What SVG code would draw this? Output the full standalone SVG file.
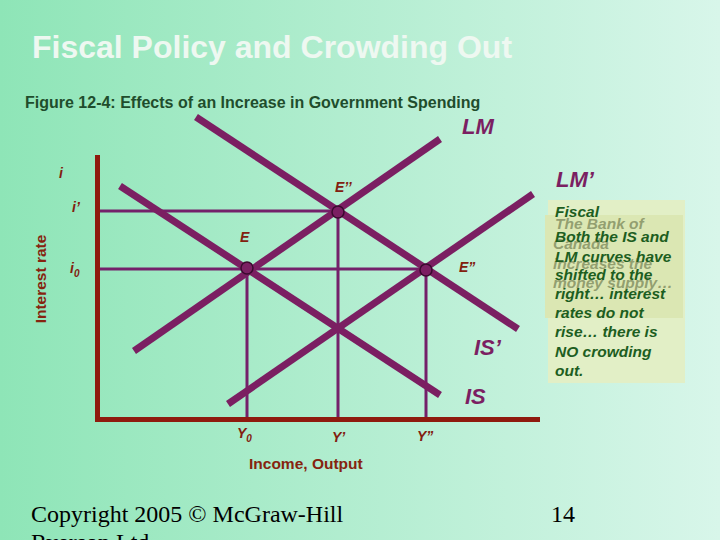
<svg xmlns="http://www.w3.org/2000/svg" width="720" height="540" viewBox="0 0 720 540">
<defs>
<linearGradient id="bg" x1="0" y1="0" x2="1" y2="0">
<stop offset="0" stop-color="#8ee5b7"/>
<stop offset="1" stop-color="#d8f6ea"/>
</linearGradient>
<style>
.curve{stroke:#7b1f62;stroke-width:7;fill:none}
.guide{stroke:#74206a;stroke-width:3;fill:none}
.axis{stroke:#8f1a0e;stroke-width:5;fill:none}
.pt{fill:#7b1f62;stroke:#3a0a2e;stroke-width:1.5}
.clab{font-family:"Liberation Sans",Arial,sans-serif;font-weight:bold;font-style:italic;font-size:22px;fill:#7b1f62}
.blab{font-family:"Liberation Sans",Arial,sans-serif;font-weight:bold;font-style:italic;font-size:14px;fill:#82200f}
.ax{font-family:"Liberation Sans",Arial,sans-serif;font-weight:bold;font-size:15.5px;fill:#86240f}
.box{font-family:"Liberation Sans",Arial,sans-serif;font-weight:bold;font-style:italic;font-size:15.5px}
.foot{font-family:"Liberation Serif","Times New Roman",serif;font-size:24px;fill:#000}
</style>
</defs>
<rect width="720" height="540" fill="url(#bg)"/>
<text x="32" y="58" font-family="Liberation Sans, Arial, sans-serif" font-weight="bold" font-size="32" fill="#eef8f1">Fiscal Policy and Crowding Out</text>
<text x="25" y="108" font-family="Liberation Sans, Arial, sans-serif" font-weight="bold" font-size="16" fill="#1f4d2c">Figure 12-4: Effects of an Increase in Government Spending</text>

<g id="connectors">
<path class="guide" d="M97 211 H338 M97 269 H426 M247 268 V418 M338 212 V418 M426 270 V418"/>
</g>

<g id="axes">
<path class="axis" d="M97.5 155 V419.5 H540"/>
<text class="ax" transform="translate(46 279) rotate(-90)" text-anchor="middle">Interest rate</text>
<text class="ax" x="249" y="469">Income, Output</text>
</g>

<g id="IS"><line class="curve" x1="120" y1="186" x2="440" y2="395"/><text class="clab" x="465" y="404">IS</text></g>
<g id="IS2"><line class="curve" x1="196" y1="117" x2="518" y2="329"/><text class="clab" x="474" y="355">IS’</text></g>
<g id="LM"><line class="curve" x1="134" y1="351" x2="440" y2="139"/><text class="clab" x="462" y="134">LM</text></g>
<g id="LM2"><line class="curve" x1="228" y1="404" x2="533" y2="194"/><text class="clab" x="556" y="187">LM’</text></g>

<g id="E"><circle class="pt" cx="247" cy="268" r="6"/><text class="blab" x="240" y="242">E</text></g>
<g id="E2"><circle class="pt" cx="338" cy="212" r="6"/><text class="blab" x="335" y="192">E’’</text></g>
<g id="E3"><circle class="pt" cx="426" cy="270" r="6"/><text class="blab" x="459" y="272">E”</text></g>

<g id="ylabels">
<text class="blab" x="59" y="178">i</text>
<text class="blab" x="72" y="212">i’</text>
<text class="blab" x="70" y="273">i<tspan font-size="10" dy="4">0</tspan></text>
</g>
<g id="xlabels">
<text class="blab" x="237" y="438">Y<tspan font-size="10" dy="4">0</tspan></text>
<text class="blab" x="332" y="442">Y’</text>
<text class="blab" x="417" y="441">Y”</text>
</g>

<g id="note">
<rect x="548" y="200" width="137" height="183" fill="#e2efc6"/>
<rect x="545" y="215" width="138" height="103" fill="#dbe7b3"/>
<text class="box" x="555" y="217" fill="#1d5e1f">Fiscal</text>
<g class="box" fill="#7f8c5e" fill-opacity="0.8">
<text x="555" y="229">The Bank of</text>
<text x="553" y="249">Canada</text>
<text x="553" y="269">increases the</text>
<text x="553" y="288">money supply…</text>
</g>
<g class="box" fill="#1d5e1f">
<text x="555" y="242">Both the IS and</text>
<text x="555" y="262">LM curves have</text>
<text x="555" y="280">shifted to the</text>
<text x="555" y="299">right… interest</text>
<text x="555" y="318">rates do not</text>
<text x="555" y="337">rise… there is</text>
<text x="555" y="357">NO crowding</text>
<text x="555" y="376">out.</text>
</g>
</g>

<g id="footer">
<text class="foot" x="31" y="522">Copyright 2005 © McGraw-Hill</text>
<text class="foot" x="31" y="550">Ryerson Ltd.</text>
<text class="foot" x="551" y="522">14</text>
</g>
</svg>
